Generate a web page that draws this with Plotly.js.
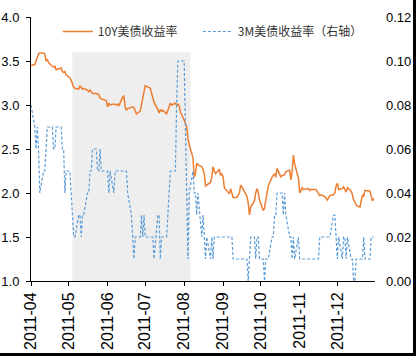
<!DOCTYPE html>
<html><head><meta charset="utf-8">
<script src="https://cdn.plot.ly/plotly-3.0.1.min.js"></script>
<style>
html,body{margin:0;padding:0;background:#fff;}
#wrap{position:relative;width:416px;height:356px;}
#chart{width:416px;height:356px;}
#frame{position:absolute;left:0;top:0;width:416px;height:356px;box-sizing:border-box;border-right:3px solid #000;border-bottom:3px solid #000;pointer-events:none;}
</style></head>
<body><div id="wrap"><div id="chart"></div><div id="frame"></div></div>
<script>
const name10y = '10Y美债收益率';
const name3m = '3M美债收益率（右轴）';
const tickMonths = ['2011-04-01','2011-05-01','2011-06-01','2011-07-01','2011-08-01','2011-09-01','2011-10-01','2011-11-01','2011-12-01'];
const tickLabels = ['2011-04','2011-05','2011-06','2011-07','2011-08','2011-09','2011-10','2011-11','2011-12'];
const shadeStart = '2011-05-04';
const shadeEnd = '2011-08-06';
const shadeTop = 3.6;

const dates10y = ['04-01','04-04','04-05','04-06','04-07','04-08','04-11','04-12','04-13','04-14','04-15','04-18','04-19','04-20','04-21','04-25','04-26','04-27','04-28','04-29',
'05-02','05-03','05-04','05-05','05-06','05-09','05-10','05-11','05-12','05-13','05-16','05-17','05-18','05-19','05-20','05-23','05-24','05-25','05-26','05-27','05-31',
'06-01','06-02','06-03','06-06','06-07','06-08','06-09','06-10','06-13','06-14','06-15','06-16','06-17','06-20','06-21','06-22','06-23','06-24','06-27','06-28','06-29','06-30',
'07-01','07-05','07-06','07-07','07-08','07-11','07-12','07-13','07-14','07-15','07-18','07-19','07-20','07-21','07-22','07-25','07-26','07-27','07-28','07-29',
'08-01','08-02','08-03','08-04','08-05','08-08','08-09','08-10','08-11','08-12','08-15','08-16','08-17','08-18','08-19','08-22','08-23','08-24','08-25','08-26','08-29','08-30','08-31',
'09-01','09-02','09-06','09-07','09-08','09-09','09-12','09-13','09-14','09-15','09-16','09-19','09-20','09-21','09-22','09-23','09-26','09-27','09-28','09-29','09-30',
'10-03','10-04','10-05','10-06','10-07','10-10','10-11','10-12','10-13','10-14','10-17','10-18','10-19','10-20','10-21','10-24','10-25','10-26','10-27','10-28','10-31',
'11-01','11-02','11-03','11-04','11-07','11-08','11-09','11-10','11-14','11-15','11-16','11-17','11-18','11-21','11-22','11-23','11-25','11-28','11-29','11-30',
'12-01','12-02','12-05','12-06','12-07','12-08','12-09','12-12','12-13','12-14','12-15','12-16','12-19','12-20','12-21','12-22','12-23','12-27','12-28','12-29','12-30'];
const values10y = [3.45,3.46,3.50,3.55,3.58,3.59,3.59,3.58,3.50,3.52,3.48,3.44,3.43,3.44,3.40,3.42,3.38,3.37,3.38,3.34,
3.31,3.28,3.24,3.20,3.19,3.18,3.22,3.20,3.18,3.19,3.17,3.15,3.17,3.15,3.13,3.13,3.12,3.12,3.08,3.07,3.05,
2.98,3.02,3.00,3.01,3.00,3.00,3.01,2.99,3.09,3.10,2.98,2.94,2.96,2.98,2.98,2.97,2.93,2.90,2.93,3.00,3.10,3.17,
3.22,3.19,3.14,3.10,3.03,2.95,2.91,2.95,2.93,2.94,2.90,2.94,2.98,3.02,3.00,3.02,3.00,3.01,2.99,2.92,
2.83,2.78,2.75,2.62,2.55,2.40,2.18,2.22,2.34,2.32,2.30,2.27,2.22,2.08,2.09,2.12,2.18,2.30,2.25,2.22,2.27,2.20,2.22,
2.18,2.06,1.99,2.05,1.99,1.95,1.95,1.98,2.00,2.09,2.07,1.99,1.96,1.89,1.75,1.84,1.91,2.00,2.05,2.01,1.92,
1.80,1.83,1.92,2.00,2.08,2.18,2.20,2.22,2.18,2.28,2.18,2.20,2.20,2.21,2.24,2.26,2.15,2.24,2.43,2.33,2.17,
2.00,2.03,2.06,2.04,2.05,2.05,2.03,2.04,2.04,2.02,2.00,1.97,1.98,1.96,1.94,1.92,1.97,1.98,2.00,2.08,
2.11,2.04,2.05,2.07,2.04,2.01,2.06,2.02,1.98,1.92,1.90,1.86,1.84,1.94,1.98,1.96,2.03,2.02,1.95,1.91,1.94];

const dates3m = dates10y.slice();
const values3m = [0.08,0.07,0.06,0.07,0.06,0.04,0.05,0.05,0.06,0.07,0.07,0.07,0.06,0.06,0.07,0.07,0.06,0.06,0.04,0.05,
0.05,0.04,0.03,0.02,0.02,0.03,0.03,0.02,0.03,0.03,0.04,0.04,0.05,0.05,0.06,0.06,0.05,0.05,0.06,0.05,0.05,
0.05,0.04,0.05,0.04,0.05,0.05,0.05,0.05,0.05,0.05,0.05,0.05,0.04,0.03,0.02,0.01,0.02,0.02,0.02,0.03,0.02,0.03,
0.02,0.02,0.02,0.02,0.01,0.03,0.03,0.01,0.02,0.02,0.02,0.03,0.04,0.05,0.05,0.05,0.08,0.10,0.10,0.10,
0.10,0.07,0.03,0.01,0.04,0.05,0.04,0.04,0.03,0.04,0.02,0.03,0.02,0.01,0.02,0.01,0.02,0.01,0.02,0.02,0.02,0.02,0.02,
0.02,0.02,0.02,0.02,0.02,0.01,0.01,0.01,0.01,0.01,0.01,0.01,0.01,0.00,0.01,0.02,0.02,0.01,0.02,0.02,0.01,
0.01,0.00,0.01,0.01,0.01,0.02,0.02,0.03,0.03,0.04,0.04,0.04,0.03,0.04,0.03,0.02,0.02,0.01,0.02,0.01,0.02,
0.01,0.01,0.01,0.01,0.01,0.01,0.01,0.01,0.01,0.01,0.01,0.02,0.02,0.02,0.02,0.02,0.02,0.03,0.03,0.02,
0.01,0.02,0.01,0.02,0.02,0.01,0.02,0.01,0.01,0.00,0.00,0.01,0.01,0.01,0.01,0.02,0.01,0.01,0.02,0.02,0.02];

const yr = d => '2011-' + d;

const traces = [
  {x: dates10y.map(yr), y: values10y, name: name10y, type: 'scatter', mode: 'lines',
   line: {color: '#ED7D31', width: 1.5}, yaxis: 'y', legend: 'legend'},
  {x: dates3m.map(yr), y: values3m, name: name3m, type: 'scatter', mode: 'lines',
   line: {color: '#5B9BD5', width: 1.2, dash: '3px,2px'}, yaxis: 'y2', legend: 'legend2'}
];

const yFont = {family: '"Liberation Sans", Arial, sans-serif', size: 13, color: '#000'};
const xFont = {family: '"Liberation Sans", Arial, sans-serif', size: 16, color: '#000'};
const legFont = {family: '"Noto Sans CJK SC", sans-serif', size: 12, color: '#333'};

const layout = {
  width: 416, height: 356,
  margin: {l: 31, r: 41, t: 17, b: 75, pad: 0},
  paper_bgcolor: '#fff', plot_bgcolor: '#fff',
  showlegend: true,
  legend: {orientation: 'h', x: 0.078, y: 1.0, xanchor: 'left', yanchor: 'top',
    bgcolor: 'rgba(0,0,0,0)', itemwidth: 30, font: legFont},
  legend2: {orientation: 'h', x: 0.485, y: 1.0, xanchor: 'left', yanchor: 'top',
    bgcolor: 'rgba(0,0,0,0)', itemwidth: 30, font: legFont},
  font: xFont,
  xaxis: {type: 'date', range: ['2011-04-01', '2011-12-31'],
    tickmode: 'array', tickvals: tickMonths, ticktext: tickLabels, tickangle: -90,
    showgrid: false, zeroline: false, showline: true, linecolor: '#000', linewidth: 1,
    ticks: 'outside', ticklen: 4, tickcolor: '#000', tickfont: xFont},
  yaxis: {range: [1.0, 4.0], dtick: 0.5, tickformat: '.1f', showgrid: false, zeroline: false,
    showline: true, linecolor: '#000', linewidth: 1, ticks: 'outside', ticklen: 4, tickcolor: '#000',
    tickfont: yFont, ticklabelstandoff: 4},
  yaxis2: {range: [0, 0.12], dtick: 0.02, tickformat: '.2f', overlaying: 'y', side: 'right',
    showgrid: false, zeroline: false, showline: false, ticks: '', tickfont: yFont, ticklabelstandoff: 10},
  shapes: [{type: 'rect', xref: 'x', yref: 'y', x0: shadeStart, x1: shadeEnd, y0: 1.0, y1: shadeTop,
    fillcolor: '#EEEEEE', line: {width: 0}, layer: 'below'}]
};

Plotly.newPlot('chart', traces, layout, {displayModeBar: false, staticPlot: true});
</script></body></html>
